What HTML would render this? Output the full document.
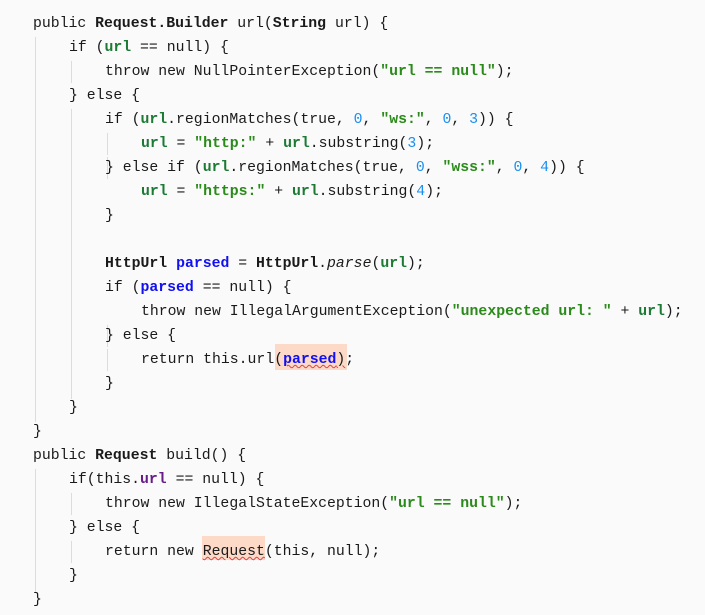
<!DOCTYPE html>
<html><head><meta charset="utf-8"><style>
html,body{margin:0;padding:0}
body{width:705px;height:615px;background:#fafafa;position:relative;overflow:hidden;font-family:"Liberation Mono",monospace;font-size:14.8px;color:#1a1a1a}
.l{position:absolute;white-space:pre;height:24px;line-height:24px}
b{font-weight:bold}
.g{color:#1d7a35;font-weight:bold}
.s{color:#2a8a1a;font-weight:bold}
.n{color:#1a8ff0}
.p{color:#1010f0;font-weight:bold}
.pu{color:#6a1b8a;font-weight:bold}
.i{font-style:italic}
.v{position:absolute;width:1px;background:#dcdcdc}
.h{position:absolute;background:#fdd9c8}
.w{text-decoration:underline wavy #e04040;text-decoration-thickness:1px}
</style></head><body>
<div class="v" style="left:35px;top:37px;height:385px"></div>
<div class="v" style="left:71px;top:61px;height:22px"></div>
<div class="v" style="left:71px;top:109px;height:290px"></div>
<div class="v" style="left:107px;top:133px;height:22px"></div>
<div class="v" style="left:107px;top:157px;height:22px"></div>
<div class="v" style="left:107px;top:325px;height:22px"></div>
<div class="v" style="left:107px;top:349px;height:22px"></div>
<div class="v" style="left:35px;top:469px;height:124px"></div>
<div class="v" style="left:71px;top:493px;height:22px"></div>
<div class="v" style="left:71px;top:541px;height:22px"></div>
<div class="h" style="left:275px;top:344px;width:72px;height:26px"></div>
<div class="h" style="left:202px;top:536px;width:63px;height:24px"></div>

<div class="l" style="left:33px;top:12px">public <b>Request.Builder</b> url(<b>String</b> url) {</div>
<div class="l" style="left:69px;top:36px">if (<span class="g">url</span> == null) {</div>
<div class="l" style="left:105px;top:60px">throw new NullPointerException(<span class="s">"url == null"</span>);</div>
<div class="l" style="left:69px;top:84px">} else {</div>
<div class="l" style="left:105px;top:108px">if (<span class="g">url</span>.regionMatches(true, <span class="n">0</span>, <span class="s">"ws:"</span>, <span class="n">0</span>, <span class="n">3</span>)) {</div>
<div class="l" style="left:141px;top:132px"><span class="g">url</span> = <span class="s">"http:"</span> + <span class="g">url</span>.substring(<span class="n">3</span>);</div>
<div class="l" style="left:105px;top:156px">} else if (<span class="g">url</span>.regionMatches(true, <span class="n">0</span>, <span class="s">"wss:"</span>, <span class="n">0</span>, <span class="n">4</span>)) {</div>
<div class="l" style="left:141px;top:180px"><span class="g">url</span> = <span class="s">"https:"</span> + <span class="g">url</span>.substring(<span class="n">4</span>);</div>
<div class="l" style="left:105px;top:204px">}</div>
<div class="l" style="left:105px;top:252px"><b>HttpUrl</b> <span class="p">parsed</span> = <b>HttpUrl</b>.<span class="i">parse</span>(<span class="g">url</span>);</div>
<div class="l" style="left:105px;top:276px">if (<span class="p">parsed</span> == null) {</div>
<div class="l" style="left:141px;top:300px">throw new IllegalArgumentException(<span class="s">"unexpected url: "</span> + <span class="g">url</span>);</div>
<div class="l" style="left:105px;top:324px">} else {</div>
<div class="l" style="left:141px;top:348px">return this.url(<span class="w"><span class="p">parsed</span>)</span>;</div>
<div class="l" style="left:105px;top:372px">}</div>
<div class="l" style="left:69px;top:396px">}</div>
<div class="l" style="left:33px;top:420px">}</div>
<div class="l" style="left:33px;top:444px">public <b>Request</b> build() {</div>
<div class="l" style="left:69px;top:468px">if(this.<span class="pu">url</span> == null) {</div>
<div class="l" style="left:105px;top:492px">throw new IllegalStateException(<span class="s">"url == null"</span>);</div>
<div class="l" style="left:69px;top:516px">} else {</div>
<div class="l" style="left:105px;top:540px">return new <span class="w">Request</span>(this, null);</div>
<div class="l" style="left:69px;top:564px">}</div>
<div class="l" style="left:33px;top:588px">}</div>
</body></html>
